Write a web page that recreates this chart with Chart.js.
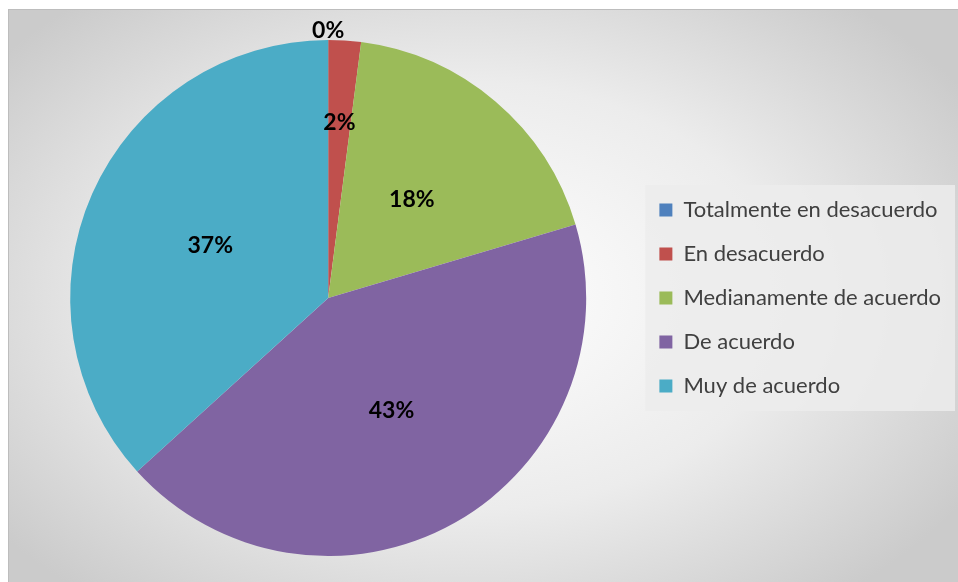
<!DOCTYPE html>
<html>
<head>
<meta charset="utf-8">
<script src="https://cdn.jsdelivr.net/npm/chart.js@4.4.1/dist/chart.umd.min.js"></script>
<style>
  html, body { margin: 0; padding: 0; background: #fff; }
  #wrap {
    position: absolute; left: 8px; top: 9px; width: 950px; height: 573px;
    box-sizing: border-box;
    border-top: 1px solid #bdbdbd; border-left: 1px solid #bdbdbd;
    background: radial-gradient(ellipse 62% 68% at 48% 50%, #ffffff 0%, #ececec 55%, #cbcbcb 100%);
  }
</style>
</head>
<body>
<div id="wrap"><canvas id="chart"></canvas></div>
<script>
// categories and counts (49 answers)
var categories = ['Totalmente en desacuerdo', 'En desacuerdo', 'Medianamente de acuerdo', 'De acuerdo', 'Muy de acuerdo'];
var counts = [0, 1, 9, 21, 18];
var sliceColors = ['#4F81BD', '#C0504D', '#9BBB59', '#8064A2', '#4BACC6'];

// where each percent label sits, as a fraction of the radius
var labelRadius = [1.035, 0.68, 0.5, 0.5, 0.5];

var total = counts.reduce(function(a, b){ return a + b; }, 0);

// draws the light box behind the legend
var legendBack = {
    id: 'legendBack',
    beforeDraw: function(chart){
        var lg = chart.legend;
        if(!lg || !lg.legendHitBoxes || !lg.legendHitBoxes.length) return;
        var boxes = lg.legendHitBoxes;
        var first = boxes[0], last = boxes[boxes.length - 1];
        var ctx = chart.ctx;
        ctx.save();
        ctx.fillStyle = 'rgba(236,236,236,0.85)';
        var l = first.left - 14, t = first.top - 14;
        ctx.fillRect(l, t, chart.width - 3 - l, last.top + last.height + 14 - t);
        ctx.restore();
    }
};

// percent labels on the slices
var pctLabels = {
    id: 'pctLabels',
    afterDatasetsDraw: function(chart){
        var ctx = chart.ctx;
        var meta = chart.getDatasetMeta(0);
        ctx.save();
        ctx.font = 'bold 23px Lato, "Liberation Sans", sans-serif';
        ctx.fillStyle = '#000';
        ctx.textAlign = 'center';
        ctx.textBaseline = 'middle';
        meta.data.forEach(function(arc, i){
            var p = arc.getProps(['x', 'y', 'startAngle', 'endAngle', 'outerRadius'], true);
            var mid = (p.startAngle + p.endAngle) / 2;
            var r = p.outerRadius * labelRadius[i];
            var txt = Math.round(counts[i] / total * 100) + '%';
            ctx.fillText(txt, p.x + Math.cos(mid) * r, p.y + Math.sin(mid) * r);
        });
        ctx.restore();
    }
};

new Chart(document.getElementById('chart').getContext('2d'), {
    type: 'pie',
    data: {
        labels: categories,
        datasets: [{
            data: counts,
            backgroundColor: sliceColors,
            borderWidth: 0
        }]
    },
    options: {
        responsive: true,
        maintainAspectRatio: false,
        animation: false,
        layout: { padding: { top: 30, bottom: 26, left: 10, right: 7 } },
        plugins: {
            tooltip: { enabled: false },
            legend: {
                position: 'right',
                labels: {
                    boxWidth: 13,
                    boxHeight: 13,
                    padding: 22,
                    color: '#404040',
                    font: { family: 'Lato, "Liberation Sans", sans-serif', size: 22 }
                }
            }
        }
    },
    plugins: [legendBack, pctLabels]
});
</script>
</body>
</html>
